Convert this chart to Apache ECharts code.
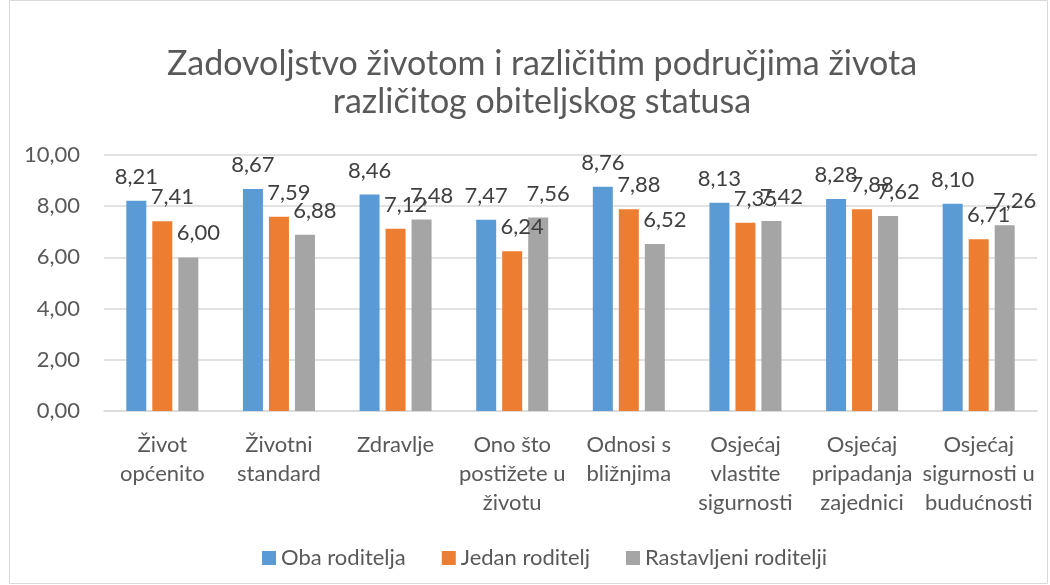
<!DOCTYPE html>
<html>
<head>
<meta charset="utf-8">
<script src="https://cdn.jsdelivr.net/npm/echarts@6/dist/echarts.min.js"></script>
<style>
  html, body { margin: 0; padding: 0; background: #fff; }
  #chart { width: 1050px; height: 585px; }
</style>
</head>
<body>
<div id="chart"></div>
<script>
  // podaci
  var categories = ['Život\nopćenito', 'Životni\nstandard', 'Zdravlje', 'Ono što\npostižete u\nživotu',
    'Odnosi s\nbližnjima', 'Osjećaj\nvlastite\nsigurnosti', 'Osjećaj\npripadanja\nzajednici', 'Osjećaj\nsigurnosti u\nbudućnosti'];
  var obaRoditelja = [8.21, 8.67, 8.46, 7.47, 8.76, 8.13, 8.28, 8.10];
  var jedanRoditelj = [7.41, 7.59, 7.12, 6.24, 7.88, 7.35, 7.88, 6.71];
  var rastavljeni = [6.00, 6.88, 7.48, 7.56, 6.52, 7.42, 7.62, 7.26];

  var font = 'Lato, "Noto Sans", sans-serif';
  function zarez(v) { return v.toFixed(2).replace('.', ','); }

  function serija(name, data, color, pomak) {
    return {
      name: name,
      type: 'bar',
      data: data,
      barWidth: 20,
      barGap: '30%',
      itemStyle: { color: color },
      label: {
        show: true,
        position: 'top',
        distance: 13,
        offset: [pomak, 0],
        fontFamily: font,
        fontSize: 22,
        color: '#404040',
        formatter: function (p) { return zarez(p.value); }
      }
    };
  }

  var chart = echarts.init(document.getElementById('chart'));
  chart.setOption({
    animation: false,
    title: {
      text: 'Zadovoljstvo životom i različitim područjima života\nrazličitog obiteljskog statusa',
      left: 537,
      top: 40,
      textAlign: 'center',
      textStyle: { fontFamily: font, fontSize: 34, fontWeight: 'normal', color: '#595959', lineHeight: 38 }
    },
    graphic: [{
      type: 'rect',
      shape: { x: 9.5, y: 0.5, width: 1038, height: 583 },
      style: { fill: 'none', stroke: '#d9d9d9', lineWidth: 1 },
      silent: true
    }],
    legend: {
      top: 542,
      left: 257,
      itemWidth: 14,
      itemHeight: 14,
      itemGap: 36,
      icon: 'rect',
      textStyle: { fontFamily: font, fontSize: 22, color: '#595959' },
      data: ['Oba roditelja', 'Jedan roditelj', 'Rastavljeni roditelji']
    },
    grid: { left: 104, right: 13, top: 155, bottom: 174 },
    xAxis: {
      type: 'category',
      data: categories,
      axisLine: { lineStyle: { color: '#d9d9d9', width: 1.5 } },
      axisTick: { show: false },
      axisLabel: { fontFamily: font, fontSize: 22, color: '#595959', lineHeight: 29, margin: 19, interval: 0 }
    },
    yAxis: {
      type: 'value',
      min: 0,
      max: 10,
      interval: 2,
      axisLine: { show: false },
      axisTick: { show: false },
      splitLine: { lineStyle: { color: '#d9d9d9', width: 1.5 } },
      axisLabel: { fontFamily: font, fontSize: 22, color: '#595959', margin: 24, formatter: function (v) { return zarez(v); } }
    },
    series: [
      serija('Oba roditelja', obaRoditelja, '#5B9BD5', 0),
      serija('Jedan roditelj', jedanRoditelj, '#ED7D31', 10),
      serija('Rastavljeni roditelji', rastavljeni, '#A5A5A5', 10)
    ]
  });
</script>
</body>
</html>
